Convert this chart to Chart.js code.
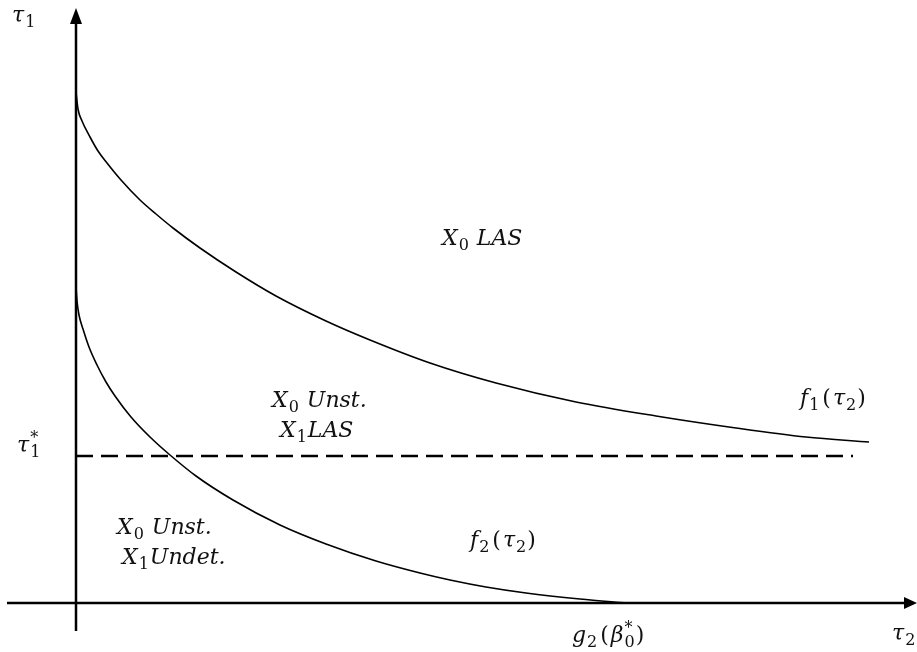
<!DOCTYPE html>
<html>
<head>
<meta charset="utf-8">
<script src="https://cdn.jsdelivr.net/npm/chart.js@4.4.1/dist/chart.umd.min.js"></script>
<style>
  html, body { margin: 0; padding: 0; background: #fff; }
  #wrap { width: 917px; height: 652px; }
</style>
</head>
<body>
<div id="wrap"><canvas id="chart" width="917" height="652"></canvas></div>
<script>
// schematic stability regions in the (tau2, tau1) plane, origin at the axes crossing
const f1X = [0, 2, 6, 14, 22, 31, 45, 64, 80, 97, 124, 160, 200, 250, 294, 354, 420, 500, 580, 660, 730, 793];
const f1Y = [511, 494, 482, 466, 452, 440, 423, 403, 389, 375, 355, 331, 307, 282, 263, 240, 220, 201, 187, 175, 166, 161];
const f2X = [0, 1, 3, 7, 13, 21, 30, 39, 55, 74, 94, 120, 157, 204, 250, 300, 344, 374, 410, 450, 504, 551];
const f2Y = [316, 302, 288, 274, 256, 238, 221, 207, 186, 166, 148, 127, 103, 78, 59, 42, 30, 23, 16, 10, 4, 0];
const tauStar = 147;
const dashEnd = 777;

const labels = [
  { text: "τ_1", x: -64, y: 581 },
  { text: "τ_1^*", x: -59, y: 151 },
  { text: "X_0 LAS", x: 366, y: 358 },
  { text: "X_0 Unst.", x: 196, y: 196 },
  { text: "X_1LAS", x: 204, y: 166 },
  { text: "f_1(τ_2)", x: 724, y: 198 },
  { text: "f_2(τ_2)", x: 394, y: 56 },
  { text: "X_0 Unst.", x: 41, y: 69 },
  { text: "X_1Undet.", x: 46, y: 39 },
  { text: "g_2(β_0^*)", x: 496, y: -39 },
  { text: "τ_2", x: 816, y: -37 }
];

const FONT = '"DejaVu Serif", "Liberation Serif", serif';

function drawMath(ctx, str, x, y, size) {
  let cx = x;
  let i = 0;
  const upright = (c) => /[0-9()*]/.test(c);
  while (i < str.length) {
    const c = str[i];
    if (c === "_" || c === "^") {
      let sub = null, sup = null;
      while (i < str.length && (str[i] === "_" || str[i] === "^")) {
        if (str[i] === "_") sub = str[i + 1]; else sup = str[i + 1];
        i += 2;
      }
      ctx.font = `${Math.round(size * 0.74)}px ${FONT}`;
      let w = 0;
      if (sub) { ctx.fillText(sub, cx + 1, y + size * 0.24); w = ctx.measureText(sub).width; }
      if (sup) { ctx.fillText(sup, cx + 1, y - size * 0.42); w = Math.max(w, ctx.measureText(sup).width); }
      cx += w + 2;
      continue;
    }
    ctx.font = upright(c) ? `${size}px ${FONT}` : `italic ${size}px ${FONT}`;
    if (c === "(") cx += 2;
    ctx.fillText(c, cx, y);
    cx += ctx.measureText(c).width;
    if (c === "(" || c === ")") cx += 2;
    i++;
  }
}

const decor = {
  id: "decor",
  beforeDatasetsDraw(chart) {
    const { ctx, scales: { x, y } } = chart;
    const ox = x.getPixelForValue(0), oy = y.getPixelForValue(0);
    ctx.save();
    ctx.strokeStyle = "#000";
    ctx.fillStyle = "#000";
    ctx.lineWidth = 2.5;
    ctx.beginPath();
    ctx.moveTo(ox, y.getPixelForValue(-28));
    ctx.lineTo(ox, y.getPixelForValue(585));
    ctx.stroke();
    ctx.beginPath();
    const top = y.getPixelForValue(595);
    ctx.moveTo(ox, top); ctx.lineTo(ox - 6, top + 16); ctx.lineTo(ox + 6, top + 16); ctx.closePath(); ctx.fill();
    ctx.beginPath();
    ctx.moveTo(x.getPixelForValue(-69), oy);
    ctx.lineTo(x.getPixelForValue(830), oy);
    ctx.stroke();
    ctx.beginPath();
    const right = x.getPixelForValue(841);
    ctx.moveTo(right, oy); ctx.lineTo(right - 13, oy - 6); ctx.lineTo(right - 13, oy + 6); ctx.closePath(); ctx.fill();
    ctx.restore();
  },
  afterDatasetsDraw(chart) {
    const { ctx, scales: { x, y } } = chart;
    ctx.save();
    ctx.fillStyle = "#111";
    ctx.textBaseline = "alphabetic";
    labels.forEach((l) => drawMath(ctx, l.text, x.getPixelForValue(l.x), y.getPixelForValue(l.y), 22));
    ctx.restore();
  }
};

const pts = (xs, ys) => xs.map((v, i) => ({ x: v, y: ys[i] }));

new Chart(document.querySelector("#chart"), {
  type: "line",
  data: {
    datasets: [
      { data: pts(f1X, f1Y), borderColor: "#000", borderWidth: 1.6, pointRadius: 0, cubicInterpolationMode: "monotone", fill: false },
      { data: pts(f2X, f2Y), borderColor: "#000", borderWidth: 1.6, pointRadius: 0, cubicInterpolationMode: "monotone", fill: false },
      { data: [{ x: 0, y: tauStar }, { x: dashEnd, y: tauStar }], borderColor: "#000", borderWidth: 2.6, borderDash: [17, 8], pointRadius: 0, fill: false }
    ]
  },
  options: {
    responsive: false,
    animation: false,
    layout: { padding: 0 },
    plugins: { legend: { display: false }, tooltip: { enabled: false } },
    scales: {
      x: { type: "linear", min: -76, max: 841, display: false },
      y: { type: "linear", min: -49, max: 603, display: false }
    }
  },
  plugins: [decor]
});
</script>
</body>
</html>
